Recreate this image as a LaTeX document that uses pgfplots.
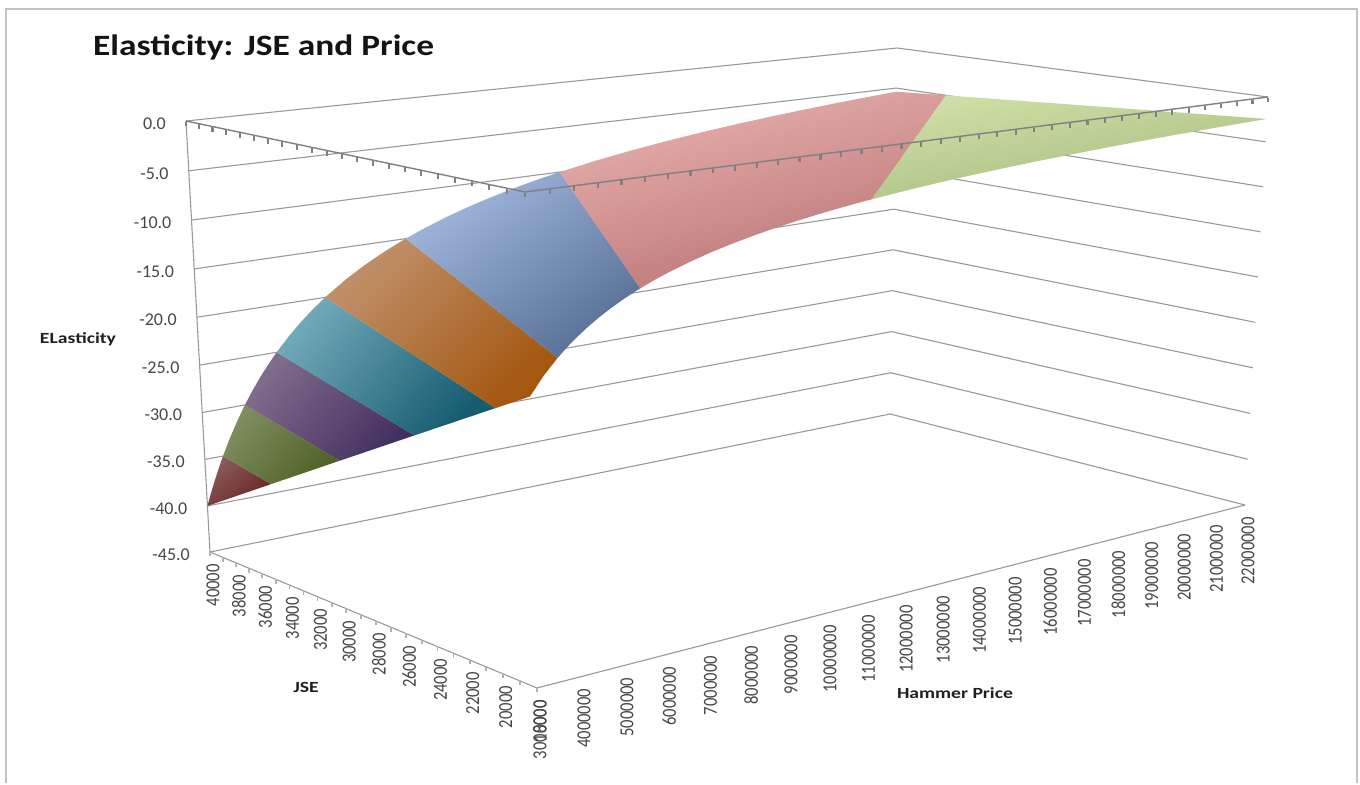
\documentclass[border=0pt]{standalone}
\usepackage{graphicx}
\usepackage{pgfplots}
\pgfplotsset{compat=1.18}
\usepackage{pgfplotstable}
\usepackage{fontspec}
\setmainfont{Carlito}
\newfontfamily\widetitle[FakeStretch=1.2]{Carlito}
\newfontfamily\widelabel[FakeStretch=1.27]{Carlito}

% Perspective view of the value box: P in millions, J in thousands, E as is.
% The eight box corners are weighted so that edges stay straight lines.
\pgfkeys{/pgf/declare function={
  pu(\p)=(\p-3)/19;
  pv(\j)=(\j-18)/22;
  pw(\e)=(\e+45)/45;
  den(\u,\v,\w)=(1-\w)*((1-\u)*(1-\v)+\u*(1-\v)*1.19+(1-\u)*\v*1.1671+\u*\v*1.3571)
     +\w*((1-\u)*(1-\v)*0.95+\u*(1-\v)*1.206+(1-\u)*\v*1.1171+\u*\v*1.38);
  sx(\u,\v,\w)=((1-\u)*(1-\v)*(1-\w)*537+\u*(1-\v)*(1-\w)*1.19*1245
     +(1-\u)*\v*(1-\w)*1.1671*210+\u*\v*(1-\w)*1.3571*890
     +(1-\u)*(1-\v)*\w*0.95*525+\u*(1-\v)*\w*1.206*1268
     +(1-\u)*\v*\w*1.1171*186+\u*\v*\w*1.38*897)/den(\u,\v,\w);
  sy(\u,\v,\w)=((1-\u)*(1-\v)*(1-\w)*688+\u*(1-\v)*(1-\w)*1.19*505
     +(1-\u)*\v*(1-\w)*1.1671*552+\u*\v*(1-\w)*1.3571*414
     +(1-\u)*(1-\v)*\w*0.95*192+\u*(1-\v)*\w*1.206*97
     +(1-\u)*\v*\w*1.1171*121+\u*\v*\w*1.38*48)/den(\u,\v,\w);
}}
\pgfplotsset{
  /pgfplots/table/box/.style={
    x expr={sx(pu(\thisrow{P}),pv(\thisrow{J}),pw(\thisrow{E}))},
    y expr={sy(pu(\thisrow{P}),pv(\thisrow{J}),pw(\thisrow{E}))}},
  wall/.style={draw=black!40,line width=1.1pt,mark=none},
  edge/.style={draw=black!50,line width=1.4pt,mark=none},
  tickmark/.style={only marks,mark=|,mark size=2.4pt,
    mark options={draw=black!50,line width=2.2pt,yshift=-3pt}},
  ticktext/.style={draw=none,mark=none,
    nodes near coords={\scalebox{1}[1.2]{\pgfplotspointmeta}},
    point meta=explicit symbolic,
    nodes near coords align={anchor=east},
    every node near coord/.append style={
      font=\fontsize{16.6}{18}\selectfont,text=black!72,inner sep=0pt,
      xshift=3pt,yshift=-12pt,rotate=90}},
}
\newcommand\wallline[1]{\addplot[wall] table[box,row sep=\\]{P J E\\ 3 40 #1\\ 22 40 #1\\ 22 18 #1\\};}

\definecolor{aT}{RGB}{140,92,92}\definecolor{aB}{RGB}{104,36,36}
\definecolor{bT}{RGB}{128,142,95}\definecolor{bB}{RGB}{78,98,38}
\definecolor{cT}{RGB}{128,108,140}\definecolor{cB}{RGB}{68,48,94}
\definecolor{dT}{RGB}{112,168,184}\definecolor{dB}{RGB}{22,92,112}
\definecolor{eT}{RGB}{192,144,106}\definecolor{eB}{RGB}{164,88,16}
\definecolor{fT}{RGB}{162,184,222}\definecolor{fB}{RGB}{88,112,150}
\definecolor{gT}{RGB}{232,178,175}\definecolor{gB}{RGB}{184,114,114}
\definecolor{hT}{RGB}{208,224,168}\definecolor{hB}{RGB}{164,186,124}

\begin{document}
\begin{tikzpicture}
\begin{axis}[
  scale only axis,width=1360pt,height=784pt,
  xmin=0,xmax=1360,ymin=0,ymax=784,y dir=reverse,
  hide axis,clip=false]

% the full chart area sets the picture's size
\path (axis cs:0,0) rectangle (axis cs:1360,784);

% chart frame
\addplot[draw=black!24,line width=2.6pt,mark=none] coordinates {(6,783) (6,9) (1357,9) (1357,783)};

% walls and floor
\wallline{0}\wallline{-5}\wallline{-10}\wallline{-15}\wallline{-20}
\wallline{-25}\wallline{-30}\wallline{-35}\wallline{-40}\wallline{-45}
\addplot[wall] table[box] {
P J E
3 40 -45
3 18 -45
22 18 -45
};
\addplot[wall] table[box] {
P J E
3 40 0
3 40 -45
};

% elasticity surface, one polygon per 5-point band
\addplot[draw=none,top color=aT,bottom color=aB,shading angle=40] table[box] {
P J E
3 40 -40
3.1 40 -38.71
3.2 40 -37.5
3.3 40 -36.36
3.4286 40 -35
3 35 -35
};
\addplot[draw=none,top color=bT,bottom color=bB,shading angle=50] table[box] {
P J E
3.4286 40 -35
3.6 40 -33.33
3.8 40 -31.58
4 40 -30
3 30 -30
3 35 -35
};
\addplot[draw=none,top color=cT,bottom color=cB,shading angle=50] table[box] {
P J E
4 40 -30
4.2 40 -28.57
4.4 40 -27.27
4.6 40 -26.09
4.8 40 -25
3 25 -25
3 30 -30
};
\addplot[draw=none,top color=dT,bottom color=dB,shading angle=50] table[box] {
P J E
4.8 40 -25
5.1 40 -23.53
5.4 40 -22.22
5.7 40 -21.05
6 40 -20
3 20 -20
3 25 -25
};
\addplot[draw=none,top color=eT,bottom color=eB,shading angle=45] table[box] {
P J E
6 40 -20
6.5 40 -18.46
7 40 -17.14
7.5 40 -16
8 40 -15
3.6 18 -15
3.3 18 -16.36
3 18 -18
3 20 -20
};
\addplot[draw=none,top color=fT,bottom color=fB,shading angle=35] table[box] {
P J E
8 40 -15
8.5 40 -14.12
9 40 -13.33
9.5 40 -12.63
10 40 -12
10.5 40 -11.43
11 40 -10.91
11.5 40 -10.43
12 40 -10
5.4 18 -10
5.2 18 -10.38
5 18 -10.8
4.75 18 -11.37
4.5 18 -12
4.25 18 -12.71
4 18 -13.5
3.8 18 -14.21
3.6 18 -15
};
\addplot[draw=none,top color=gT,bottom color=gB,shading angle=15] table[box] {
P J E
12 40 -10
13 40 -9.23
14 40 -8.57
15 40 -8
16 40 -7.5
17 40 -7.06
18 40 -6.67
19 40 -6.32
20 40 -6
21 40 -5.71
22 40 -5.45
22 36.67 -5
10.8 18 -5
10.4 18 -5.19
10 18 -5.4
9.5 18 -5.68
9 18 -6
8.5 18 -6.35
8 18 -6.75
7.5 18 -7.2
7 18 -7.71
6.5 18 -8.31
6 18 -9
5.7 18 -9.47
5.4 18 -10
};
\addplot[draw=none,top color=hT,bottom color=hB,shading angle=10] table[box] {
P J E
22 36.67 -5
22 18 -2.45
21 18 -2.57
20 18 -2.7
19 18 -2.84
18 18 -3
17 18 -3.18
16 18 -3.38
15 18 -3.6
14 18 -3.86
13 18 -4.15
12 18 -4.5
11.5 18 -4.7
10.8 18 -5
};

% top edges with their tick marks
\addplot[edge] table[box] {
P J E
3 40 0
3 18 0
22 18 0
};
\addplot[tickmark] table[box] {
P J E
3 40 0
3 39 0
3 38 0
3 37 0
3 36 0
3 35 0
3 34 0
3 33 0
3 32 0
3 31 0
3 30 0
3 29 0
3 28 0
3 27 0
3 26 0
3 25 0
3 24 0
3 23 0
3 22 0
3 21 0
3 20 0
3 19 0
3 18 0
};
\addplot[tickmark] table[box] {
P J E
3.5 18 0
4 18 0
4.5 18 0
5 18 0
5.5 18 0
6 18 0
6.5 18 0
7 18 0
7.5 18 0
8 18 0
8.5 18 0
9 18 0
9.5 18 0
10 18 0
10.5 18 0
11 18 0
11.5 18 0
12 18 0
12.5 18 0
13 18 0
13.5 18 0
14 18 0
14.5 18 0
15 18 0
15.5 18 0
16 18 0
16.5 18 0
17 18 0
17.5 18 0
18 18 0
18.5 18 0
19 18 0
19.5 18 0
20 18 0
20.5 18 0
21 18 0
21.5 18 0
22 18 0
};
\addplot[tickmark,mark options={draw=black!30,line width=1.8pt,yshift=-2pt}] table[box] {
P J E
3 40 -45
3 39 -45
3 38 -45
3 37 -45
3 36 -45
3 35 -45
3 34 -45
3 33 -45
3 32 -45
3 31 -45
3 30 -45
3 29 -45
3 28 -45
3 27 -45
3 26 -45
3 25 -45
3 24 -45
3 23 -45
3 22 -45
3 21 -45
3 20 -45
3 19 -45
3 18 -45
};

% value axis labels
\addplot[draw=none,mark=none,nodes near coords,point meta=explicit symbolic,
  nodes near coords align={anchor=east},
  every node near coord/.append style={font=\fontsize{18}{20}\selectfont,
    text=black!72,inner sep=0pt,xshift=-20pt,yshift=-2.5pt}]
  table[box,meta=L] {
P J E L
3 40 0 0.0
3 40 -5 -5.0
3 40 -10 -10.0
3 40 -15 -15.0
3 40 -20 -20.0
3 40 -25 -25.0
3 40 -30 -30.0
3 40 -35 -35.0
3 40 -40 -40.0
3 40 -45 -45.0
};
% JSE labels
\addplot[ticktext] table[box,meta=L] {
P J E L
3 40 -45 40000
3 38 -45 38000
3 36 -45 36000
3 34 -45 34000
3 32 -45 32000
3 30 -45 30000
3 28 -45 28000
3 26 -45 26000
3 24 -45 24000
3 22 -45 22000
3 20 -45 20000
3 18 -45 18000
};
% hammer price labels
\addplot[ticktext] table[box,meta=L] {
P J E L
3 18 -45 3000000
4 18 -45 4000000
5 18 -45 5000000
6 18 -45 6000000
7 18 -45 7000000
8 18 -45 8000000
9 18 -45 9000000
10 18 -45 10000000
11 18 -45 11000000
12 18 -45 12000000
13 18 -45 13000000
14 18 -45 14000000
15 18 -45 15000000
16 18 -45 16000000
17 18 -45 17000000
18 18 -45 18000000
19 18 -45 19000000
20 18 -45 20000000
21 18 -45 21000000
22 18 -45 22000000
};

% titles
\node[anchor=west,inner sep=0pt,font=\fontsize{29.5}{32}\widetitle\bfseries,text=black!92] at (axis cs:93,47) {Elasticity: JSE and Price};
\node[inner sep=0pt,font=\fontsize{15.5}{17}\widelabel\bfseries,text=black!88] at (axis cs:78,339) {ELasticity};
\node[inner sep=0pt,font=\fontsize{15.5}{17}\widelabel\bfseries,text=black!88] at (axis cs:306,687) {JSE};
\node[inner sep=0pt,font=\fontsize{15.5}{17}\widelabel\bfseries,text=black!88] at (axis cs:955,693) {Hammer Price};
\end{axis}
\end{tikzpicture}
\end{document}
